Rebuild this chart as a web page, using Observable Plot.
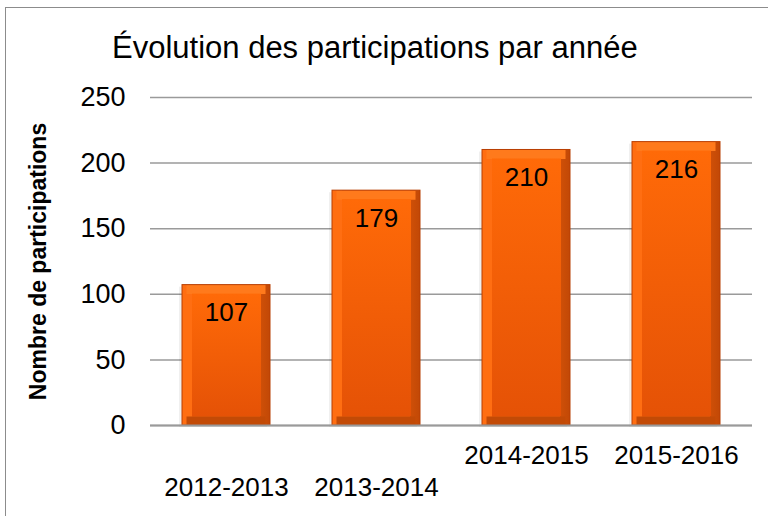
<!DOCTYPE html>
<html>
<head>
<meta charset="utf-8">
<script src="https://cdn.jsdelivr.net/npm/d3@7"></script>
<script src="https://cdn.jsdelivr.net/npm/@observablehq/plot@0.6"></script>
<style>
  html, body { margin: 0; padding: 0; background: #fff; overflow: hidden; }
  #wrap { position: relative; width: 768px; height: 516px; overflow: hidden; font-family: "Liberation Sans", Arial, sans-serif; }
  #frame { position: absolute; left: 5px; top: 7px; width: 900px; height: 700px; border: 1.5px solid #8c8c8c; box-sizing: border-box; }
  #title { position: absolute; left: 112px; top: 30px; font-size: 31px; line-height: 36px; color: #000; white-space: nowrap; }
  #chart { position: absolute; left: 0; top: 0; }
</style>
</head>
<body>
<div id="wrap">
  <div id="frame"></div>
  <div id="chart"></div>
  <div id="title">Évolution des participations par année</div>
</div>
<script>
const years = ["2012-2013", "2013-2014", "2014-2015", "2015-2016"];
const participations = [107, 179, 210, 216];
const yTicks = [0, 50, 100, 150, 200, 250];
const lowLabels = ["2012-2013", "2013-2014"];
const highLabels = ["2014-2015", "2015-2016"];
const yLabel = "Nombre de participations";

const data = years.map((y, i) => ({year: y, value: participations[i]}));

const defs = () => {
  const d = d3.create("svg:defs");
  const h = d.append("linearGradient").attr("id", "gSide").attr("x1", 0).attr("x2", 1).attr("y1", 0).attr("y2", 0);
  [[0, "#ff6e12"], [0.11, "#ff6e12"], [0.11, "#f05c08"], [0.89, "#f05c08"], [0.89, "#cf5008"], [1, "#c24806"]]
    .forEach(([o, c]) => h.append("stop").attr("offset", o).attr("stop-color", c));
  const v = d.append("linearGradient").attr("id", "gFace").attr("x1", 0).attr("x2", 0).attr("y1", 0).attr("y2", 1);
  [[0, "#ff6a08"], [1, "#e55206"]].forEach(([o, c]) => v.append("stop").attr("offset", o).attr("stop-color", c));
  return d.node();
};

const chart = Plot.plot({
  width: 768,
  height: 516,
  marginTop: 97,
  marginBottom: 91,
  marginLeft: 150,
  marginRight: 16,
  style: {fontFamily: "'Liberation Sans', Arial, sans-serif", background: "transparent"},
  x: {domain: years, paddingInner: 0.415, paddingOuter: 0.2075, label: null},
  y: {domain: [0, 250], label: null},
  marks: [
    defs,
    Plot.gridY(yTicks, {stroke: "#9a9a9a", strokeOpacity: 1, strokeWidth: 1.5}),
    Plot.barY(data, {x: "year", y: "value", fill: "#000", fillOpacity: 0.06, dx: -3, dy: 2}),
    Plot.barY(data, {x: "year", y: "value", fill: "url(#gSide)"}),
    Plot.tickY(data, {x: "year", y: "value", stroke: "#ff7a1c", strokeWidth: 9, dy: 4.5, insetLeft: 4.5, insetRight: 4.5}),
    Plot.tickY(data, {x: "year", y: 0, stroke: "#c24a06", strokeWidth: 9, dy: -4.5, insetLeft: 4.5, insetRight: 4.5}),
    Plot.barY(data, {x: "year", y: "value", fill: "url(#gFace)", insetLeft: 10, insetRight: 9, insetTop: 9, insetBottom: 9}),
    Plot.barY(data, {x: "year", y: "value", fill: "none", stroke: "#b83e02", strokeWidth: 1}),
    Plot.ruleY([0], {stroke: "#9a9a9a", strokeWidth: 2}),
    Plot.text(data, {x: "year", y: "value", text: d => String(d.value), dy: 28, fontSize: 26, fill: "#000", lineAnchor: "middle"}),
    Plot.axisY(yTicks, {tickSize: 0, tickPadding: 25, fontSize: 27, label: null, fill: "#000"}),
    Plot.axisX(lowLabels, {tickSize: 0, tickPadding: 52, fontSize: 26, label: null, fill: "#000"}),
    Plot.axisX(highLabels, {tickSize: 0, tickPadding: 20, fontSize: 26, label: null, fill: "#000"}),
    Plot.text([yLabel], {frameAnchor: "left", dx: -112, rotate: -90, textAnchor: "middle", fontSize: 23, fontWeight: "bold", fill: "#000"})
  ]
});
document.getElementById("chart").appendChild(chart);
</script>
</body>
</html>
